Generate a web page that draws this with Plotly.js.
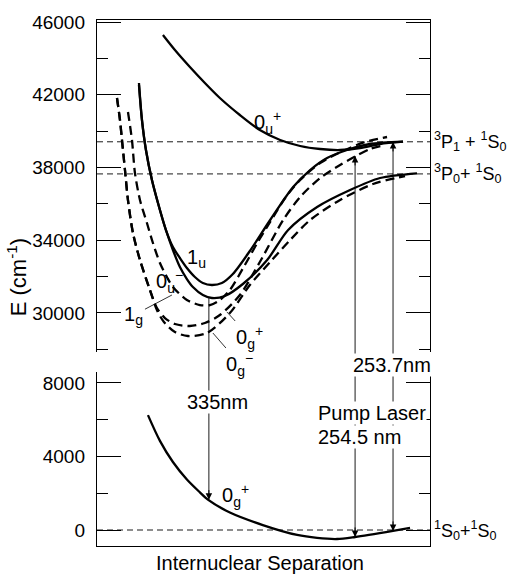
<!DOCTYPE html>
<html><head><meta charset="utf-8">
<script src="https://cdn.plot.ly/plotly-3.0.1.min.js"></script>
<style>html,body{margin:0;padding:0;background:#fff}#chart{width:509px;height:574px}</style>
</head><body><div id="chart"></div><script>
// ---- Data (internuclear separation in arbitrary units, energy in cm^-1) ----
const x0uPlus = [1.98, 2.34, 2.79, 3.24, 3.69, 4.29, 4.89, 5.50, 6.10, 6.70, 7.30, 7.90, 8.50, 9.19];
const e0uPlus = [45285, 44460, 43525, 42645, 41820, 40885, 40060, 39510, 39180, 39015, 38960, 39070, 39290, 39420];

const x1u = [1.26, 1.35, 1.47, 1.65, 1.89, 2.07, 2.28, 2.49, 2.70, 2.94, 3.18, 3.45, 3.75, 4.08, 4.59, 5.20, 5.89, 6.40, 6.91, 7.51, 8.20, 9.19];
const e1u = [42645, 40610, 38960, 37310, 35660, 34560, 33625, 33020, 32470, 31975, 31645, 31535, 31645, 32140, 33405, 35110, 36925, 37860, 38520, 38960, 39290, 39420];

const x0uMinus = [1.26, 1.35, 1.47, 1.65, 1.89, 2.07, 2.28, 2.49, 2.70, 2.88, 3.18, 3.45, 3.84, 4.38, 5.11, 5.74, 6.61, 7.60, 8.50, 9.61];
const e0uMinus = [42535, 40610, 38960, 37310, 35660, 34560, 33460, 32525, 31865, 31425, 30985, 30820, 30930, 31590, 32910, 34560, 35825, 36760, 37420, 37680];

const x1g = [0.93, 1.05, 1.14, 1.29, 1.50, 1.68, 1.89, 2.10, 2.28, 2.70, 3.09, 3.39, 3.69, 3.99, 4.44, 4.83, 5.20, 5.65, 6.10, 6.70, 7.45, 8.05, 8.71];
const e1g = [41050, 39510, 37695, 36210, 34945, 33845, 32745, 31975, 31425, 30710, 30435, 30435, 30710, 31260, 32635, 33900, 35000, 36320, 37310, 38245, 38960, 39400, 39675];

const x0gPlus = [0.60, 0.69, 0.75, 0.84, 0.93, 1.08, 1.29, 1.59, 1.80, 2.04, 2.34, 2.79, 3.24, 3.69, 4.29, 4.89, 5.59, 6.10, 6.70, 7.30, 7.78, 8.20, 8.65];
const e0gPlus = [41820, 40610, 39510, 37860, 36210, 34395, 32910, 31260, 30270, 29720, 29390, 29280, 29445, 29885, 30985, 32800, 35110, 36375, 37420, 38135, 38630, 39015, 39235];

const x0gMinus = [0.60, 0.69, 0.75, 0.84, 0.93, 1.08, 1.29, 1.59, 1.80, 2.01, 2.34, 2.73, 3.30, 3.99, 4.59, 5.20, 5.80, 6.40, 7.30, 8.29, 9.25];
const e0gMinus = [41820, 40610, 39510, 37860, 36210, 34395, 32910, 31260, 30160, 29500, 28950, 28730, 28895, 29995, 31535, 32800, 34010, 35110, 36210, 37090, 37530];

const xGround = [1.53, 1.89, 2.28, 2.70, 3.09, 3.33, 3.99, 4.98, 6.01, 6.61, 7.21, 7.75, 8.89, 9.40];
const eGround = [6250, 4850, 3700, 2750, 2050, 1650, 950, 270, -270, -430, -490, -380, -50, 110];

// asymptote levels
const upperLevels = [39412, 37645];
const upperLevelLabels = ['<sup>3</sup>P<sub>1</sub> + <sup>1</sup>S<sub>0</sub>', '<sup>3</sup>P<sub>0</sub>+ <sup>1</sup>S<sub>0</sub>'];
const lowerLevels = [0];
const lowerLevelLabels = ['<sup>1</sup>S<sub>0</sub>+<sup>1</sup>S<sub>0</sub>'];

// transitions (vertical arrows)
const transX = [3.36, 7.75, 8.89];
const transUpperE = [30820, 38630, 39400];
const transLowerE = [1650, -380, -50];
const transBothHeads = [false, true, true];

// tick values / labels
const upperTickVals = [30000, 34000, 38000, 42000, 46000];
const upperTickText = ['30000', '34000', '38000', '42000', '46000'];
const lowerTickVals = [0, 4000, 8000];
const lowerTickText = ['0', '4000', '8000'];

// state labels
const stateLabelText = ['0<sub>u</sub><sup>+</sup>', '1<sub>u</sub>', '0<sub>u</sub><sup>\u2212</sup>'];
const stateLabelX = [5.11, 2.98, 2.18];
const stateLabelE = [40500, 33000, 31750];
const leaderText = ['1<sub>g</sub>', '0<sub>g</sub><sup>+</sup>', '0<sub>g</sub><sup>\u2212</sup>'];
const leaderHeadX = [2.25, 3.90, 3.48];
const leaderHeadE = [30985, 30055, 28895];
const leaderTailX = [1.11, 4.59, 4.29];
const leaderTailE = [29885, 28675, 27190];
const groundLabelX = 4.17, groundLabelE = 1850;

// ---- Layout constants ----
const FONT = '"Liberation Sans Narrow", "Liberation Sans", Arial, sans-serif';
const lowerDomain = [0, 0.3308], lowerRange = [-870, 8595];
const upperDomain = [0.3688, 1], upperRange = [27850, 46110];
const xRange = [0, 10];
function toPaper(dom, rng, v) { return dom[0] + (v - rng[0]) / (rng[1] - rng[0]) * (dom[1] - dom[0]); }

const solid = {color: '#000', width: 2.3};
const dashed = {color: '#000', width: 2.3, dash: '9px,5px'};
const levelLine = {color: '#000', width: 0.9, dash: '6px,4px'};

const traces = [];
function addCurve(x, y, line, upper) {
  traces.push({x: x, y: y, type: 'scatter', mode: 'lines', line: Object.assign({shape: 'spline', smoothing: 0.8}, line),
    xaxis: upper ? 'x2' : 'x', yaxis: upper ? 'y2' : 'y', hoverinfo: 'skip', showlegend: false});
}
upperLevels.forEach(v => addCurve(xRange, [v, v], levelLine, true));
lowerLevels.forEach(v => addCurve(xRange, [v, v], levelLine, false));
addCurve(x0uPlus, e0uPlus, solid, true);
addCurve(x1u, e1u, solid, true);
addCurve(x0uMinus, e0uMinus, solid, true);
addCurve(x1g, e1g, dashed, true);
addCurve(x0gPlus, e0gPlus, dashed, true);
addCurve(x0gMinus, e0gMinus, dashed, true);
addCurve(xGround, eGround, solid, false);

const shapes = [];
const annotations = [];
const labelFont = {family: FONT, size: 20, color: '#000'};
const levelFont = {family: FONT, size: 18, color: '#000'};
const midFont = {family: FONT, size: 20, color: '#000'};

transX.forEach((x, i) => {
  shapes.push({type: 'line', xref: 'x', yref: 'paper', x0: x, x1: x,
    y0: toPaper(lowerDomain, lowerRange, transLowerE[i]), y1: toPaper(upperDomain, upperRange, transUpperE[i]),
    line: {color: '#000', width: 0.9}});
  annotations.push({xref: 'x', yref: 'y', x: x, y: transLowerE[i], axref: 'x', ayref: 'y', ax: x, ay: transLowerE[i] + 600,
    text: '', showarrow: true, arrowhead: 2, arrowsize: 1.3, arrowwidth: 1, arrowcolor: '#000'});
  if (transBothHeads[i]) {
    annotations.push({xref: 'x2', yref: 'y2', x: x, y: transUpperE[i], axref: 'x2', ayref: 'y2', ax: x, ay: transUpperE[i] - 600,
      text: '', showarrow: true, arrowhead: 2, arrowsize: 1.3, arrowwidth: 1, arrowcolor: '#000'});
  }
});

upperLevels.forEach((v, i) => annotations.push({xref: 'paper', yref: 'y2', x: 1.006, y: v, xanchor: 'left', yanchor: 'middle',
  text: upperLevelLabels[i], showarrow: false, font: levelFont}));
lowerLevels.forEach((v, i) => annotations.push({xref: 'paper', yref: 'y', x: 1.006, y: v, xanchor: 'left', yanchor: 'middle',
  text: lowerLevelLabels[i], showarrow: false, font: levelFont}));

stateLabelText.forEach((t, i) => annotations.push({xref: 'x2', yref: 'y2', x: stateLabelX[i], y: stateLabelE[i],
  text: t, showarrow: false, font: labelFont}));
leaderText.forEach((t, i) => annotations.push({xref: 'x2', yref: 'y2', x: leaderHeadX[i], y: leaderHeadE[i],
  axref: 'x2', ayref: 'y2', ax: leaderTailX[i], ay: leaderTailE[i], text: t, showarrow: true, arrowhead: 0,
  arrowwidth: 0.8, arrowcolor: '#000', standoff: 0, font: labelFont}));
annotations.push({xref: 'x', yref: 'y', x: groundLabelX, y: groundLabelE, text: '0<sub>g</sub><sup>+</sup>', showarrow: false, font: labelFont});

// transition labels
annotations.push({xref: 'x', yref: 'y', x: 3.62, y: 6960, text: '335nm', showarrow: false, bgcolor: '#fff', borderpad: 0, font: midFont});
annotations.push({xref: 'x', yref: 'paper', x: 8.86, y: toPaper(upperDomain, upperRange, 27135), text: '253.7nm', showarrow: false, bgcolor: '#fff', borderpad: 0, font: midFont});
annotations.push({xref: 'x', yref: 'y', x: 6.6, y: 6365, xanchor: 'left', text: 'Pump Laser', showarrow: false, bgcolor: '#fff', borderpad: 0, font: midFont});
annotations.push({xref: 'x', yref: 'y', x: 6.6, y: 5060, xanchor: 'left', text: '254.5 nm', showarrow: false, bgcolor: '#fff', borderpad: 0, font: midFont});

// axis titles
annotations.push({xref: 'paper', yref: 'paper', x: -0.24, y: 0.511, xanchor: 'center', yanchor: 'middle',
  text: 'E (cm<sup>-1</sup>)', textangle: -90, showarrow: false, font: {family: FONT, size: 22, color: '#000'}});
annotations.push({xref: 'paper', yref: 'paper', x: 0.49, y: -0.032, xanchor: 'center', yanchor: 'middle', text: 'Internuclear Separation', showarrow: false,
  font: {family: '"Liberation Sans", Arial, sans-serif', size: 20, color: '#000'}});

function yAxis(dom, rng, vals, txt, anchor) {
  return {domain: dom, range: rng, anchor: anchor, showline: true, linecolor: '#000', linewidth: 1.2, mirror: 'ticks',
    ticks: 'inside', ticklen: 24, tickwidth: 1, tickcolor: '#000', tickmode: 'array', tickvals: vals, ticktext: txt,
    minor: {ticks: 'inside', ticklen: 11, tickwidth: 1, tickcolor: '#000', dtick: 2000, tick0: 0},
    showgrid: false, zeroline: false, tickfont: {family: FONT, size: 19, color: '#000'}, ticklabelstandoff: 7, fixedrange: true};
}

const layout = {
  width: 509, height: 574, margin: {l: 97, r: 79, t: 20, b: 28}, paper_bgcolor: '#fff', plot_bgcolor: '#fff',
  showlegend: false,
  xaxis: {domain: [0, 1], range: xRange, anchor: 'y', showline: true, linecolor: '#000', linewidth: 1.2, ticks: '',
    showticklabels: false, showgrid: false, zeroline: false},
  xaxis2: {domain: [0, 1], range: xRange, anchor: 'y2', side: 'top', showline: true, linecolor: '#000', linewidth: 1.2, ticks: '',
    showticklabels: false, showgrid: false, zeroline: false},
  yaxis: yAxis(lowerDomain, lowerRange, lowerTickVals, lowerTickText, 'x'),
  yaxis2: yAxis(upperDomain, upperRange, upperTickVals, upperTickText, 'x2'),
  shapes: shapes, annotations: annotations
};

Plotly.newPlot('chart', traces, layout, {staticPlot: true, displayModeBar: false});
</script></body></html>
